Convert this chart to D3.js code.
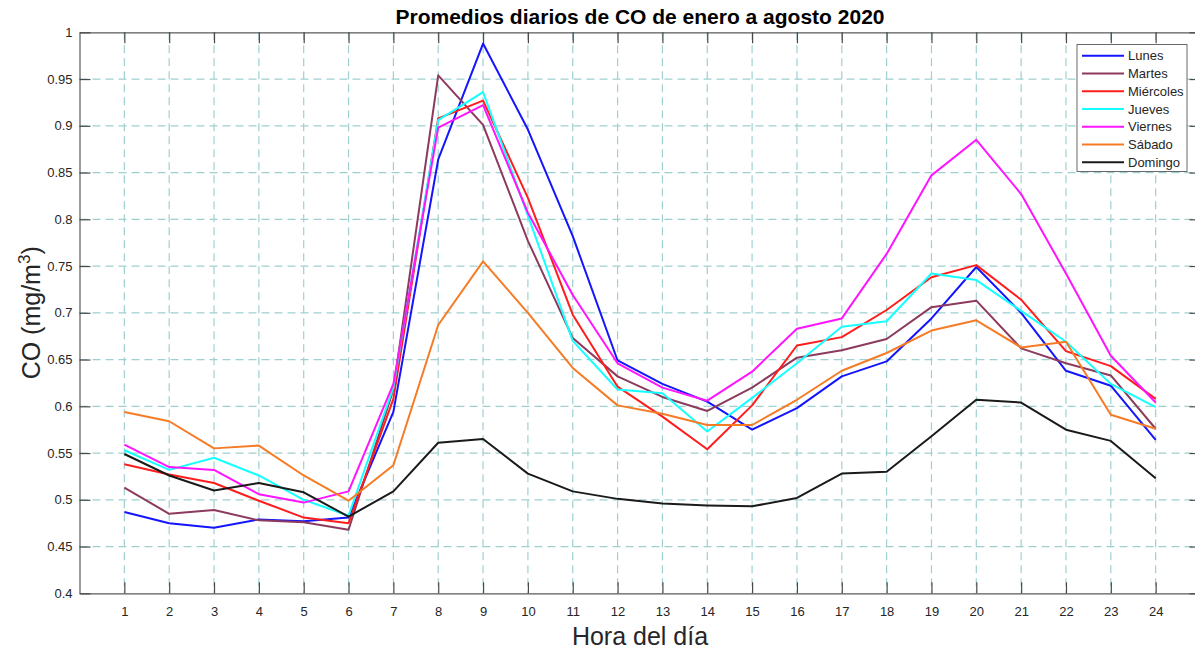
<!DOCTYPE html>
<html>
<head>
<meta charset="utf-8">
<script src="https://cdn.jsdelivr.net/npm/d3@7"></script>
<style>
  body { margin: 0; background: #fff; }
  svg { display: block; font-family: "Liberation Sans", Arial, sans-serif; }
</style>
</head>
<body>
<svg id="chart" width="1195" height="651"></svg>
<script>
// horas del dia
var horas = [1,2,3,4,5,6,7,8,9,10,11,12,13,14,15,16,17,18,19,20,21,22,23,24];
var yTicks = [0.4,0.45,0.5,0.55,0.6,0.65,0.7,0.75,0.8,0.85,0.9,0.95,1];

var lunes     = [0.487,0.475,0.470,0.479,0.477,0.481,0.594,0.864,0.988,0.896,0.782,0.649,0.624,0.605,0.575,0.598,0.632,0.648,0.694,0.749,0.700,0.638,0.622,0.564];
var martes    = [0.513,0.485,0.489,0.478,0.476,0.468,0.618,0.954,0.901,0.777,0.673,0.632,0.610,0.595,0.620,0.652,0.660,0.672,0.706,0.713,0.662,0.646,0.633,0.576];
var miercoles = [0.538,0.527,0.518,0.499,0.481,0.475,0.608,0.908,0.927,0.823,0.698,0.621,0.589,0.554,0.601,0.665,0.674,0.703,0.738,0.751,0.714,0.659,0.643,0.608];
var jueves    = [0.553,0.532,0.545,0.526,0.500,0.483,0.620,0.906,0.936,0.804,0.670,0.618,0.614,0.573,0.609,0.646,0.685,0.691,0.742,0.735,0.702,0.669,0.624,0.599];
var viernes   = [0.559,0.535,0.532,0.506,0.497,0.509,0.624,0.898,0.922,0.807,0.719,0.646,0.620,0.606,0.637,0.683,0.694,0.763,0.847,0.885,0.827,0.742,0.654,0.604];
var sabado    = [0.594,0.584,0.555,0.558,0.526,0.499,0.537,0.687,0.755,0.700,0.641,0.601,0.592,0.580,0.580,0.607,0.638,0.657,0.681,0.692,0.663,0.669,0.591,0.576];
var domingo   = [0.549,0.526,0.510,0.518,0.508,0.482,0.509,0.561,0.565,0.528,0.509,0.501,0.496,0.494,0.493,0.502,0.528,0.530,0.568,0.607,0.604,0.575,0.563,0.523];

var nombres = ["Lunes","Martes","Miércoles","Jueves","Viernes","Sábado","Domingo"];
var colores = ["#1414ff","#8c3a5e","#ff1c1c","#14ffff","#ff14ff","#f67b25","#1a1a1a"];
var series = [lunes, martes, miercoles, jueves, viernes, sabado, domingo];

var svg = d3.select("#chart");
var pLeft = 79.5, pTop = 32.3, pRight = 1200.5, pBottom = 593.3;

var x = d3.scaleLinear().domain([0, 25]).range([pLeft, pRight]);
var y = d3.scaleLinear().domain([0.4, 1]).range([pBottom, pTop]);

// grid
var grid = svg.append("g").attr("class", "grid");
grid.selectAll(".gx").data(horas).enter().append("line")
    .attr("x1", function(d){ return x(d); }).attr("x2", function(d){ return x(d); })
    .attr("y1", pTop).attr("y2", pBottom)
    .attr("stroke", "#9fd0d0").attr("stroke-width", 1.2).attr("stroke-dasharray", "8,5");
grid.selectAll(".gy").data(yTicks.slice(1, -1)).enter().append("line")
    .attr("x1", pLeft).attr("x2", pRight)
    .attr("y1", function(d){ return y(d); }).attr("y2", function(d){ return y(d); })
    .attr("stroke", "#9fd0d0").attr("stroke-width", 1.2).attr("stroke-dasharray", "8,5");

// axes (ticks pointing inward, box on)
var fmt = function(d){ return d3.format("")(+d.toFixed(2)); };
var xAxis = svg.append("g").attr("transform", "translate(0," + pBottom + ")")
    .call(d3.axisBottom(x).tickValues(horas).tickSizeInner(-11).tickSizeOuter(0).tickPadding(20));
var xTop = svg.append("g").attr("transform", "translate(0," + pTop + ")")
    .call(d3.axisTop(x).tickValues(horas).tickSizeInner(-11).tickSizeOuter(0).tickFormat(""));
var yAxis = svg.append("g").attr("transform", "translate(" + pLeft + ",0)")
    .call(d3.axisLeft(y).tickValues(yTicks).tickFormat(fmt).tickSizeInner(-11).tickSizeOuter(0).tickPadding(7));
var yRight = svg.append("g").attr("transform", "translate(" + pRight + ",0)")
    .call(d3.axisRight(y).tickValues(yTicks).tickSizeInner(-11).tickSizeOuter(0).tickFormat(""));

[xAxis, xTop, yAxis, yRight].forEach(function(a){
    a.select(".domain").attr("stroke", "#5a5a5a").attr("stroke-width", 1.2);
    a.selectAll(".tick line").attr("stroke", "#4a4a4a").attr("stroke-width", 1.2);
    a.selectAll("text").attr("fill", "#262626").attr("font-size", "13px")
        .attr("font-family", "Liberation Sans, Arial, sans-serif");
});
xAxis.selectAll("text").attr("dy", "0.2em");

// lines
var line = d3.line()
    .x(function(d, i){ return x(horas[i]); })
    .y(function(d){ return y(d); });

svg.append("g").selectAll("path").data(series).enter().append("path")
    .attr("d", line)
    .attr("fill", "none")
    .attr("stroke", function(d, i){ return colores[i]; })
    .attr("stroke-width", 2)
    .attr("stroke-linejoin", "round");

// title and labels
svg.append("text")
    .attr("x", 640).attr("y", 24)
    .attr("text-anchor", "middle")
    .attr("font-size", "21px").attr("font-weight", "bold").attr("fill", "#000")
    .text("Promedios diarios de CO de enero a agosto 2020");

svg.append("text")
    .attr("x", 640).attr("y", 645)
    .attr("text-anchor", "middle")
    .attr("font-size", "25px").attr("fill", "#262626")
    .text("Hora del día");

var yl = svg.append("text")
    .attr("transform", "translate(40," + ((pTop + pBottom) / 2) + ") rotate(-90)")
    .attr("text-anchor", "middle")
    .attr("font-size", "25px").attr("fill", "#262626");
yl.append("tspan").text("CO (mg/m");
yl.append("tspan").attr("font-size", "17px").attr("dy", "-0.6em").text("3");
yl.append("tspan").attr("dy", "0.4em").text(")");

// legend
var lg = svg.append("g");
lg.append("rect")
    .attr("x", 1077).attr("y", 44.5).attr("width", 110).attr("height", 127)
    .attr("fill", "#fff").attr("stroke", "#6a6a6a").attr("stroke-width", 1);
var item = lg.selectAll(".item").data(nombres).enter().append("g")
    .attr("transform", function(d, i){ return "translate(0," + (55.7 + i * 17.77) + ")"; });
item.append("line")
    .attr("x1", 1082).attr("x2", 1124).attr("y1", 0).attr("y2", 0)
    .attr("stroke", function(d, i){ return colores[i]; }).attr("stroke-width", 2);
item.append("text")
    .attr("x", 1128).attr("y", 0).attr("dy", "0.35em")
    .attr("font-size", "13px").attr("fill", "#262626")
    .text(function(d){ return d; });
</script>
</body>
</html>
